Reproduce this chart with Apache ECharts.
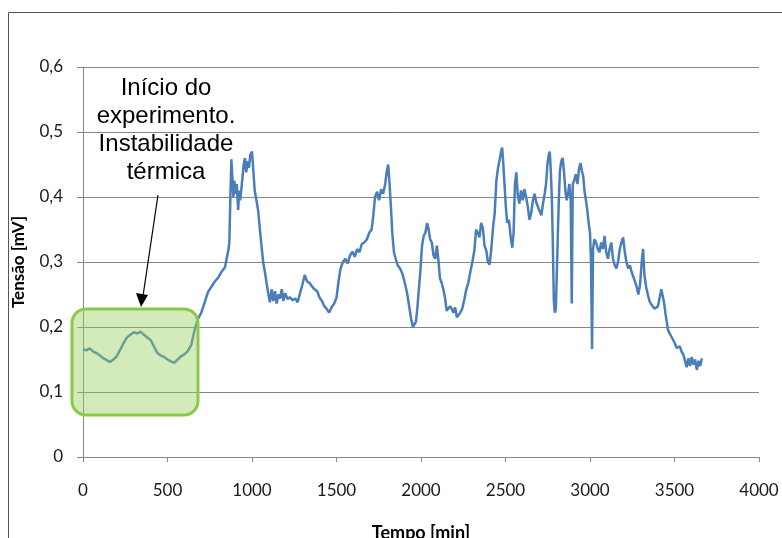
<!DOCTYPE html>
<html>
<head>
<meta charset="utf-8">
<script src="https://cdn.jsdelivr.net/npm/echarts@6/dist/echarts.min.js"></script>
<style>
  html, body { margin: 0; padding: 0; background: #fff; }
  #main { width: 782px; height: 538px; }
</style>
</head>
<body>
<div id="main"></div>
<script>
// Tempo [min] e Tensão [mV]
var tempo = [
  0, 20, 40, 60, 80, 100, 120, 140, 160, 180, 200, 220, 240, 260, 280, 300, 320, 340, 360, 380,
  400, 420, 440, 460, 480, 500, 520, 540, 560, 580, 600, 620, 640, 660, 680,
  700, 720, 740, 760, 780, 800, 820, 840, 850, 860, 866, 872, 878, 884, 890, 896, 902, 910, 918, 924,
  930, 940, 950, 958, 966, 974, 982, 990, 1000, 1008, 1016, 1026, 1036, 1046, 1056, 1066, 1076, 1086,
  1096, 1106, 1116, 1126, 1136, 1146, 1156, 1166, 1176, 1186, 1196, 1210, 1224, 1240, 1256, 1270, 1284,
  1298, 1312, 1326, 1340, 1356, 1370, 1386, 1400, 1414, 1428, 1442, 1456, 1470, 1486, 1500, 1512, 1524,
  1538, 1552, 1566, 1580, 1594, 1608, 1622, 1636, 1650, 1664, 1680, 1694, 1708, 1718, 1728, 1740, 1752,
  1764, 1776, 1788, 1798, 1806, 1814, 1822, 1830, 1840, 1850, 1862, 1876, 1890, 1904, 1918, 1930, 1942,
  1952, 1962, 1970, 1978, 1988, 1996, 2006, 2016, 2026, 2036, 2044, 2054, 2064, 2074, 2084, 2094, 2104,
  2112, 2122, 2132, 2142, 2152, 2162, 2172, 2182, 2192, 2202, 2212, 2222, 2232, 2244, 2256, 2268, 2280,
  2292, 2304, 2316, 2326, 2336, 2346, 2356, 2366, 2376, 2386, 2396, 2406, 2416, 2426, 2436, 2446, 2456,
  2466, 2474, 2480, 2486, 2494, 2502, 2510, 2520, 2530, 2540, 2548, 2556, 2564, 2572, 2582, 2592, 2602,
  2612, 2622, 2632, 2642, 2652, 2662, 2672, 2682, 2692, 2702, 2712, 2722, 2732, 2740, 2748, 2756, 2762,
  2768, 2774, 2780, 2786, 2792, 2798, 2804, 2810, 2816, 2822, 2830, 2838, 2846, 2854, 2862, 2870, 2878,
  2886, 2892, 2898, 2906, 2916, 2926, 2936, 2944, 2952, 2960, 2968, 2976, 2984, 2992, 3000, 3006, 3012,
  3018, 3026, 3036, 3046, 3056, 3066, 3076, 3086, 3096, 3106, 3116, 3126, 3136, 3146, 3156, 3166, 3176,
  3186, 3196, 3206, 3216, 3226, 3236, 3246, 3256, 3266, 3276, 3286, 3296, 3306, 3314, 3322, 3332, 3342,
  3352, 3362, 3372, 3382, 3392, 3402, 3412, 3422, 3430, 3438, 3446, 3454, 3462, 3472, 3482, 3492, 3502,
  3512, 3522, 3532, 3542, 3552, 3562, 3572, 3582, 3592, 3602, 3612, 3622, 3632, 3642, 3652, 3662
];
var tensao = [
  0.166, 0.164, 0.167, 0.162, 0.160, 0.156, 0.152, 0.149, 0.146, 0.150, 0.155, 0.165, 0.175, 0.184, 0.188, 0.192, 0.190, 0.193, 0.188, 0.184,
  0.180, 0.170, 0.160, 0.156, 0.154, 0.150, 0.147, 0.145, 0.150, 0.155, 0.158, 0.163, 0.172, 0.195, 0.212,
  0.222, 0.238, 0.254, 0.262, 0.270, 0.276, 0.285, 0.292, 0.305, 0.318, 0.330, 0.400, 0.458, 0.430, 0.400, 0.425, 0.405, 0.420, 0.380, 0.410,
  0.395, 0.420, 0.448, 0.460, 0.438, 0.455, 0.445, 0.465, 0.470, 0.440, 0.410, 0.395, 0.380, 0.352, 0.325, 0.300, 0.285, 0.268,
  0.252, 0.238, 0.258, 0.240, 0.255, 0.236, 0.250, 0.244, 0.258, 0.240, 0.252, 0.243, 0.246, 0.241, 0.244, 0.238, 0.252,
  0.265, 0.280, 0.270, 0.268, 0.262, 0.258, 0.255, 0.245, 0.240, 0.232, 0.228, 0.222, 0.230, 0.236, 0.245, 0.270, 0.290,
  0.300, 0.305, 0.298, 0.310, 0.316, 0.308, 0.320, 0.315, 0.328, 0.330, 0.335, 0.345, 0.350, 0.372, 0.400, 0.408, 0.395,
  0.412, 0.405, 0.420, 0.440, 0.450, 0.420, 0.385, 0.345, 0.315, 0.305, 0.295, 0.290, 0.282, 0.268, 0.252, 0.232, 0.212,
  0.200, 0.198, 0.208, 0.228, 0.260, 0.285, 0.325, 0.340, 0.345, 0.360, 0.352, 0.335, 0.330, 0.310, 0.305, 0.325, 0.300,
  0.275, 0.268, 0.258, 0.245, 0.225, 0.222, 0.232, 0.228, 0.222, 0.230, 0.215, 0.212, 0.222, 0.228, 0.242, 0.258, 0.268,
  0.285, 0.300, 0.318, 0.350, 0.345, 0.338, 0.360, 0.352, 0.325, 0.318, 0.300, 0.296, 0.320, 0.352, 0.375, 0.425, 0.445,
  0.458, 0.470, 0.476, 0.455, 0.420, 0.385, 0.360, 0.365, 0.340, 0.322, 0.345, 0.420, 0.438, 0.405, 0.390, 0.410, 0.395,
  0.412, 0.400, 0.385, 0.365, 0.375, 0.395, 0.405, 0.392, 0.385, 0.378, 0.372, 0.390, 0.405, 0.420, 0.450, 0.465, 0.470,
  0.440, 0.400, 0.330, 0.240, 0.222, 0.228, 0.225, 0.345, 0.400, 0.440, 0.455, 0.460, 0.440, 0.410, 0.395, 0.405, 0.420,
  0.395, 0.236, 0.420, 0.425, 0.435, 0.420, 0.445, 0.452, 0.440, 0.432, 0.408, 0.395, 0.380, 0.360, 0.345, 0.300, 0.166,
  0.320, 0.335, 0.330, 0.320, 0.315, 0.330, 0.320, 0.340, 0.315, 0.305, 0.320, 0.330, 0.305, 0.295, 0.290, 0.300, 0.320,
  0.330, 0.338, 0.315, 0.300, 0.290, 0.295, 0.285, 0.282, 0.270, 0.262, 0.250, 0.265, 0.300, 0.320, 0.280, 0.262, 0.250,
  0.240, 0.235, 0.238, 0.228, 0.225, 0.232, 0.245, 0.258, 0.255, 0.238, 0.222, 0.208, 0.195, 0.192, 0.185, 0.180, 0.175,
  0.168, 0.165, 0.170, 0.162, 0.158, 0.155, 0.138, 0.152, 0.140, 0.154, 0.142, 0.150, 0.134, 0.148, 0.140, 0.152
];
var xTicks = [0, 500, 1000, 1500, 2000, 2500, 3000, 3500, 4000];
var yTicks = [0, 0.1, 0.2, 0.3, 0.4, 0.5, 0.6];

var dados = tempo.map(function (t, i) { return [t, tensao[i]]; });

var myChart = echarts.init(document.getElementById('main'));

var option = {
    backgroundColor: '#fff',
    animation: false,
    grid: { left: 83, right: 23, top: 67, bottom: 81, containLabel: false, outerBoundsMode: 'none' },
    xAxis: {
        type: 'value',
        min: xTicks[0],
        max: xTicks[xTicks.length - 1],
        interval: 500,
        name: 'Tempo [min]',
        nameLocation: 'middle',
        nameGap: 67,
        nameTextStyle: { fontFamily: 'Lato', fontWeight: 'bold', fontSize: 18, color: '#000' },
        axisLine: { lineStyle: { color: '#868686', width: 1 } },
        axisTick: { show: true, length: 5, inside: false, lineStyle: { color: '#868686' } },
        axisLabel: {
            margin: 25, color: '#1a1a1a', fontFamily: 'Lato', fontSize: 17,
            formatter: function (v) { return String(v); }
        },
        splitLine: { show: false }
    },
    yAxis: {
        type: 'value',
        min: yTicks[0],
        max: yTicks[yTicks.length - 1],
        interval: 0.1,
        name: 'Tensão [mV]',
        nameLocation: 'middle',
        nameGap: 56,
        nameTextStyle: { fontFamily: 'Lato', fontWeight: 'bold', fontSize: 17, color: '#000' },
        axisLine: { show: true, lineStyle: { color: '#868686', width: 1 } },
        axisTick: { show: true, length: 6, lineStyle: { color: '#868686' } },
        axisLabel: {
            margin: 20, color: '#1a1a1a', fontFamily: 'Lato', fontSize: 17,
            formatter: function (v) { return v === 0 ? '0' : v.toFixed(1).replace('.', ','); }
        },
        splitLine: { show: true, lineStyle: { color: '#868686', width: 1 } }
    },
    series: [{
        type: 'line',
        data: dados,
        showSymbol: false,
        symbol: 'none',
        lineStyle: { color: '#4a7ebb', width: 2.5 },
        z: 3
    }],
    graphic: [
        // moldura do gráfico
        { type: 'rect', z: 1, silent: true,
          shape: { x: 8.5, y: 12.5, width: 800, height: 600 },
          style: { fill: null, stroke: '#555', lineWidth: 1 } },
        // caixa verde
        { type: 'rect', z: 100, silent: true,
          shape: { x: 72, y: 309, width: 126, height: 106, r: 14 },
          style: { fill: 'rgba(150,205,90,0.42)', stroke: '#8cc84b', lineWidth: 3 } },
        // seta
        { type: 'line', z: 100, silent: true,
          shape: { x1: 158, y1: 195, x2: 143, y2: 296 },
          style: { stroke: '#000', lineWidth: 1.2 } },
        { type: 'polygon', z: 100, silent: true,
          shape: { points: [[136, 293], [148, 295], [141, 307]] },
          style: { fill: '#000' } },
        // texto
        { type: 'text', z: 100, silent: true,
          style: {
              x: 166, y: 74,
              text: 'Início do\nexperimento.\nInstabilidade\ntérmica',
              textAlign: 'center',
              textVerticalAlign: 'top',
              fontFamily: 'Liberation Sans',
              fontSize: 24,
              lineHeight: 28,
              fill: '#000'
          } }
    ]
};

myChart.setOption(option);
</script>
</body>
</html>
